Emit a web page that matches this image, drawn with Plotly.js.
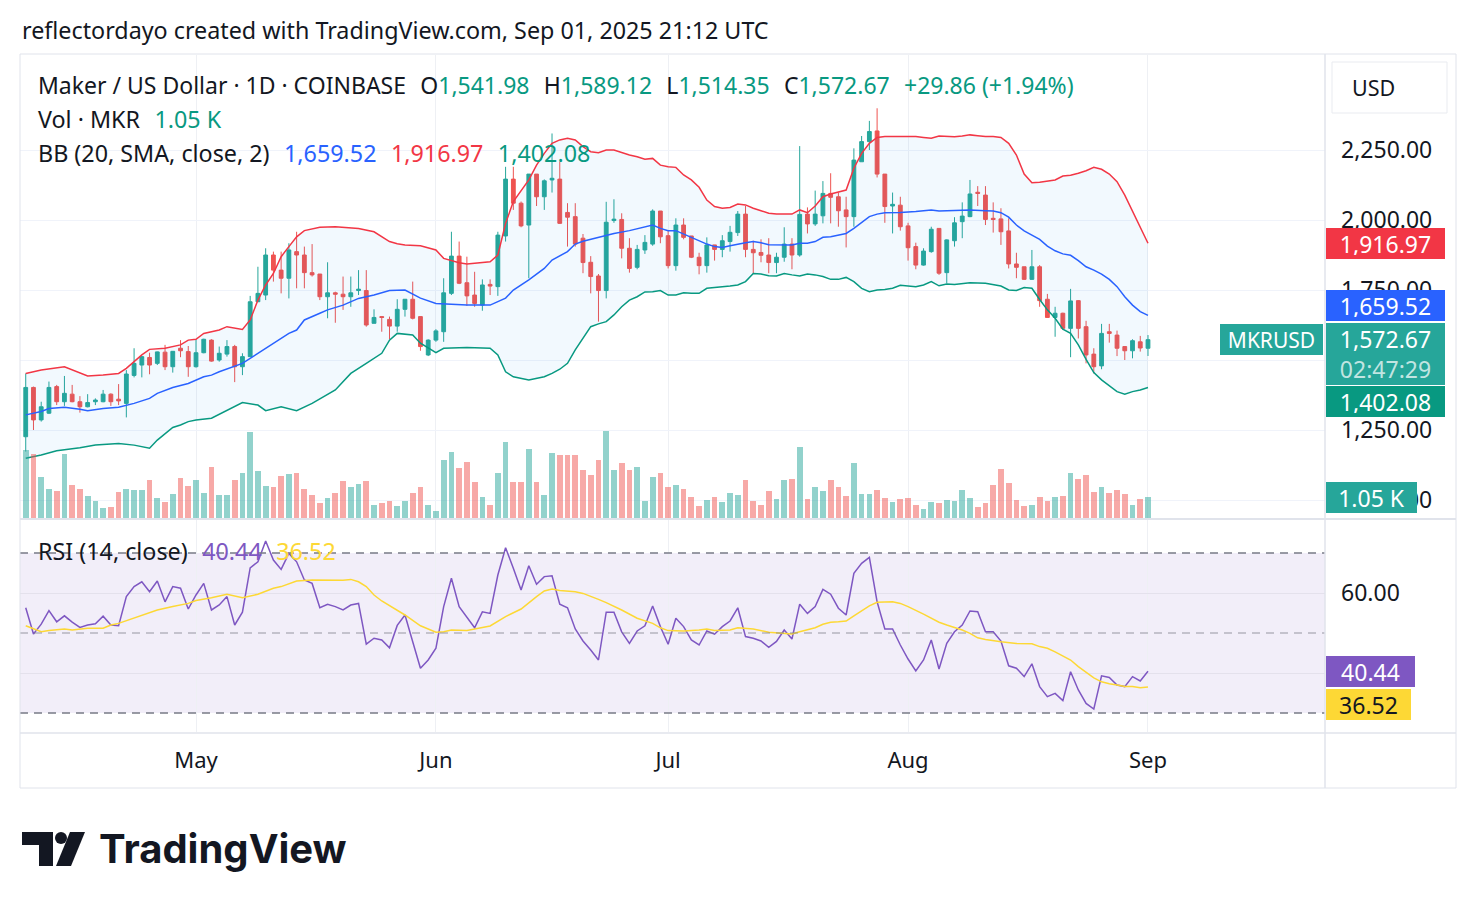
<!DOCTYPE html>
<html><head><meta charset="utf-8">
<script src="https://cdn.plot.ly/plotly-3.0.1.min.js"></script>
<style>html,body{margin:0;padding:0;background:#fff;}#chart{width:1476px;height:908px;}</style>
</head><body><div id="chart"></div>
<script>
// ---------- DATA ----------
const dates = [
'2025-04-09','2025-04-10','2025-04-11','2025-04-12','2025-04-13','2025-04-14','2025-04-15','2025-04-16','2025-04-17','2025-04-18',
'2025-04-19','2025-04-20','2025-04-21','2025-04-22','2025-04-23','2025-04-24','2025-04-25','2025-04-26','2025-04-27','2025-04-28',
'2025-04-29','2025-04-30','2025-05-01','2025-05-02','2025-05-03','2025-05-04','2025-05-05','2025-05-06','2025-05-07','2025-05-08',
'2025-05-09','2025-05-10','2025-05-11','2025-05-12','2025-05-13','2025-05-14','2025-05-15','2025-05-16','2025-05-17','2025-05-18',
'2025-05-19','2025-05-20','2025-05-21','2025-05-22','2025-05-23','2025-05-24','2025-05-25','2025-05-26','2025-05-27','2025-05-28',
'2025-05-29','2025-05-30','2025-05-31','2025-06-01','2025-06-02','2025-06-03','2025-06-04','2025-06-05','2025-06-06','2025-06-07',
'2025-06-08','2025-06-09','2025-06-10','2025-06-11','2025-06-12','2025-06-13','2025-06-14','2025-06-15','2025-06-16','2025-06-17',
'2025-06-18','2025-06-19','2025-06-20','2025-06-21','2025-06-22','2025-06-23','2025-06-24','2025-06-25','2025-06-26','2025-06-27',
'2025-06-28','2025-06-29','2025-06-30','2025-07-01','2025-07-02','2025-07-03','2025-07-04','2025-07-05','2025-07-06','2025-07-07',
'2025-07-08','2025-07-09','2025-07-10','2025-07-11','2025-07-12','2025-07-13','2025-07-14','2025-07-15','2025-07-16','2025-07-17',
'2025-07-18','2025-07-19','2025-07-20','2025-07-21','2025-07-22','2025-07-23','2025-07-24','2025-07-25','2025-07-26','2025-07-27',
'2025-07-28','2025-07-29','2025-07-30','2025-07-31','2025-08-01','2025-08-02','2025-08-03','2025-08-04','2025-08-05','2025-08-06',
'2025-08-07','2025-08-08','2025-08-09','2025-08-10','2025-08-11','2025-08-12','2025-08-13','2025-08-14','2025-08-15','2025-08-16',
'2025-08-17','2025-08-18','2025-08-19','2025-08-20','2025-08-21','2025-08-22','2025-08-23','2025-08-24','2025-08-25','2025-08-26',
'2025-08-27','2025-08-28','2025-08-29','2025-08-30','2025-08-31','2025-09-01'];

const open = [
1226,1402,1286,1310,1405,1351,1378,1351,1333,1351,
1351,1378,1360,1345,1445,1482,1509,1488,1528,1476,
1542,1530,1476,1526,1571,1500,1521,1548,1476,1512,
1708,1732,1875,1821,1792,1887,1875,1812,1807,1726,
1740,1735,1726,1748,1748,1631,1655,1645,1621,1681,
1717,1655,1518,1571,1601,1738,1871,1776,1732,1696,
1770,1762,1943,2146,2060,1982,2164,2083,2143,2146,
2027,2012,1935,1849,1800,1748,1998,2002,1899,1831,
1893,1914,2032,1944,1837,1982,1943,1867,1837,1911,
1895,1923,1955,2021,1895,1884,1875,1848,1867,1914,
1875,2021,1986,2015,2095,2083,2036,2012,2208,2280,
2318,2164,2050,2053,1979,1905,1839,1887,1970,1812,
1926,1994,2012,2099,2089,2006,2004,1961,1843,1833,
1788,1833,1717,1652,1667,1613,1712,1619,1521,1479,
1601,1589,1548,1533,1565,1541.98];

const high = [
1452,1405,1351,1423,1411,1443,1411,1371,1378,1363,
1393,1381,1414,1464,1542,1514,1526,1530,1554,1531,
1571,1550,1574,1576,1574,1548,1571,1554,1524,1729,
1833,1899,1887,1887,1917,1958,1905,1914,1807,1849,
1744,1798,1798,1821,1821,1681,1655,1655,1717,1717,
1780,1655,1574,1610,1792,1958,1923,1869,1815,1788,
1788,1958,2190,2190,2066,2164,2164,2145,2309,2208,
2060,2060,1950,1871,1807,2065,2074,2024,1935,1911,
1946,2038,2032,1964,2006,2006,1943,1883,1938,1911,
1946,1979,2032,2050,1926,1931,1935,1883,1974,1935,
2264,2045,2105,2139,2167,2098,2083,2256,2300,2354,
2399,2164,2098,2083,1990,1919,1899,1976,1970,1931,
2010,2063,2143,2121,2121,2063,2042,2006,1883,1833,
1893,1839,1736,1690,1669,1754,1714,1640,1542,1629,
1629,1605,1550,1574,1586,1589.12];

const low = [
1173,1250,1280,1307,1339,1336,1349,1312,1331,1339,
1349,1336,1339,1295,1438,1438,1449,1482,1464,1455,
1510,1440,1473,1524,1494,1494,1512,1421,1446,1512,
1708,1714,1780,1738,1720,1756,1756,1798,1714,1649,
1633,1679,1690,1732,1619,1631,1601,1574,1601,1655,
1645,1533,1514,1565,1565,1732,1771,1693,1690,1676,
1732,1729,1923,2036,1974,1792,2050,2036,2098,1986,
1905,1905,1810,1738,1637,1720,1990,1863,1812,1824,
1879,1908,1917,1827,1819,1931,1864,1806,1812,1855,
1867,1887,1943,1867,1810,1849,1810,1810,1851,1824,
1869,1952,1979,1988,1988,1976,1902,1976,2208,2250,
2152,1990,1952,1962,1855,1824,1837,1883,1804,1774,
1905,1935,2010,2050,1982,1955,1911,1827,1792,1786,
1786,1690,1652,1583,1607,1510,1577,1488,1452,1467,
1562,1514,1500,1506,1530,1514.35];

const close = [
1402,1286,1333,1402,1351,1381,1351,1333,1348,1357,
1378,1351,1354,1450,1488,1512,1482,1529,1476,1531,
1533,1476,1526,1574,1496,1524,1548,1476,1512,1708,
1738,1875,1821,1792,1893,1875,1812,1804,1726,1740,
1735,1726,1740,1753,1625,1652,1652,1621,1681,1717,
1649,1548,1571,1604,1740,1871,1774,1729,1702,1768,
1764,1946,2146,2060,1979,2164,2083,2140,2149,1988,
2010,1914,1848,1798,1748,1992,2003,1899,1827,1895,
1920,2032,1940,1837,1982,1938,1867,1837,1911,1895,
1926,1956,2021,1895,1883,1874,1848,1867,1914,1875,
2020,1986,2021,2095,2081,2033,2012,2214,2280,2316,
2164,2048,2056,1976,1901,1839,1889,1967,1810,1929,
1990,2014,2093,2095,2002,2002,1958,1843,1831,1788,
1833,1712,1652,1667,1613,1711,1613,1518,1476,1595,
1595,1542,1533,1569,1542.81,1572.67];

// volume in thousands (K)
const volumeK = [
3.47,3.25,2.06,1.49,1.35,3.25,1.66,1.47,1.10,0.85,
0.51,0.54,1.32,1.47,1.44,1.40,1.91,1.00,0.81,1.20,
2.01,1.61,1.91,1.27,2.57,1.15,1.18,1.95,2.28,4.35,
2.37,1.61,1.56,2.12,2.23,2.28,1.49,1.15,0.76,1.02,
1.27,1.90,1.56,1.73,1.86,0.64,0.76,0.88,0.62,0.85,
1.27,1.56,0.64,0.34,2.96,3.33,2.54,2.83,1.81,1.05,
0.64,2.28,3.84,1.81,1.81,3.52,1.81,1.18,3.28,3.21,
3.18,3.18,2.45,2.17,2.93,4.40,2.45,2.77,2.45,2.57,
0.85,2.06,2.27,1.56,1.69,1.49,1.05,0.59,0.90,1.05,
0.80,1.25,1.15,1.91,0.85,0.68,1.35,0.95,1.91,1.96,
3.59,0.95,1.56,1.35,1.91,1.56,1.10,2.77,1.20,1.20,
1.40,1.00,0.80,0.95,1.00,0.64,0.44,0.80,0.74,0.90,
0.85,1.40,1.00,0.54,0.74,1.66,2.47,1.76,0.90,0.59,
0.64,1.05,0.85,1.05,1.10,2.27,1.96,2.17,1.30,1.56,
1.25,1.40,1.20,0.64,0.95,1.05];

// Bollinger Bands (20, SMA, close, 2) read at candle indices
const bbUpperIdx = [0,2,5,8,10,12,13,15,16,18,20,21,22,23,25,26,28,29,30,31,32,33,34,35,36,38,40,43,45,46,47,48,49,51,53,54,56,57,60,61,62,63,65,66,67,68,69,70,71,72,73,74,75,76,77,78,79,80,81,82,83,84,85,86,87,88,89,90,91,92,93,94,95,96,97,98,99,100,101,102,103,104,105,106,107,108,109,110,111,113,115,116,117,118,119,120,121,122,123,124,125,126,127,128,129,130,131,132,133,134,135,136,137,138,139,140,141,142,143,144,145];
const bbUpperVal = [1452,1464,1476,1443,1446,1452,1470,1518,1538,1542,1554,1571,1574,1595,1607,1619,1609,1643,1714,1768,1809,1869,1905,1940,1962,1974,1976,1970,1958,1940,1923,1915,1911,1908,1893,1863,1847,1843,1851,1875,1988,2066,2143,2196,2238,2274,2286,2292,2286,2262,2244,2240,2250,2250,2240,2232,2226,2217,2220,2196,2190,2188,2161,2143,2117,2071,2048,2042,2045,2057,2054,2042,2033,2024,2021,2020,2021,2036,2026,2050,2083,2093,2101,2107,2185,2238,2274,2295,2298,2298,2298,2295,2292,2300,2298,2297,2300,2304,2301,2298,2298,2295,2274,2232,2164,2133,2135,2138,2143,2157,2160,2167,2176,2188,2181,2164,2137,2089,2030,1970,1916.97];

const bbBasisIdx = [0,2,3,5,7,8,10,12,14,16,17,19,21,23,24,25,28,30,32,34,35,36,38,39,41,43,45,47,49,51,53,57,60,62,63,65,67,68,70,71,72,73,74,76,78,80,81,82,83,84,85,86,87,88,89,90,91,92,93,94,95,96,97,99,100,101,102,103,104,105,106,107,108,109,110,111,113,115,117,118,120,122,124,125,126,127,128,129,130,131,132,133,134,135,136,137,138,139,140,141,142,143,144,145];
const bbBasisVal = [1304,1316,1327,1331,1324,1319,1327,1331,1345,1363,1381,1402,1416,1440,1446,1458,1488,1524,1560,1595,1607,1643,1667,1679,1696,1720,1732,1748,1750,1721,1702,1696,1696,1721,1750,1786,1827,1857,1887,1914,1924,1931,1938,1952,1962,1976,1982,1970,1962,1962,1950,1940,1926,1914,1905,1902,1908,1914,1919,1923,1919,1912,1911,1911,1917,1917,1923,1938,1940,1946,1952,1970,1990,2012,2021,2026,2027,2030,2036,2032,2034,2036,2033,2032,2026,2010,1982,1961,1946,1931,1907,1890,1879,1874,1855,1833,1821,1807,1788,1762,1726,1696,1673,1659.52];

const bbLowerIdx = [0,2,4,5,7,9,12,14,16,17,19,20,21,22,24,28,30,31,33,35,37,40,42,44,46,47,48,50,51,53,54,57,60,61,62,63,65,67,68,69,70,71,72,73,74,75,76,77,78,79,80,81,82,83,84,85,86,87,88,89,90,91,92,93,94,95,96,97,98,99,100,101,102,103,104,105,106,107,108,109,110,111,112,113,114,115,116,117,118,119,120,121,122,124,125,126,127,128,129,130,131,132,133,134,135,136,137,138,139,140,141,142,143,144,145];
const bbLowerVal = [1149,1161,1176,1179,1187,1196,1202,1196,1185,1214,1259,1268,1280,1286,1292,1348,1339,1319,1333,1319,1345,1393,1452,1488,1524,1571,1595,1589,1560,1526,1542,1545,1542,1518,1458,1440,1429,1440,1452,1467,1488,1536,1578,1619,1629,1637,1661,1690,1714,1726,1743,1744,1748,1732,1732,1740,1738,1738,1756,1760,1762,1764,1768,1780,1809,1807,1801,1800,1809,1804,1800,1807,1804,1798,1788,1788,1795,1780,1756,1744,1750,1752,1756,1767,1764,1762,1768,1780,1765,1771,1770,1774,1776,1774,1770,1764,1750,1748,1759,1756,1716,1679,1649,1610,1595,1554,1502,1455,1429,1407,1387,1378,1387,1393,1402.08];

// RSI (14, close) and its moving average
const rsi = [
56.3,49.75,52.2,55.6,52.8,54.3,52.7,51.4,52.0,52.3,
54.2,52.0,51.8,59.1,61.6,62.8,60.3,63.0,57.8,61.6,
61.2,56.0,59.5,62.4,55.75,57.0,59.1,52.0,55.2,66.3,
67.8,73.0,68.25,65.9,69.9,67.8,63.25,62.4,56.3,57.2,
56.6,55.75,57.0,57.4,47.2,48.7,48.25,46.3,51.9,54.5,
47.8,41.2,43.25,46.2,56.6,63.7,56.6,53.8,51.3,55.3,
54.9,64.5,71.3,66.2,60.75,66.8,62.2,64.1,64.3,57.2,
56.3,51.0,48.0,45.75,43.25,55.2,55.2,50.3,47.4,50.5,
51.8,56.75,51.6,47.2,53.7,51.6,48.25,47.0,50.5,49.7,
51.6,53.0,56.3,49.1,48.7,48.0,46.4,47.9,50.75,48.5,
57.2,54.9,56.6,60.9,59.7,56.2,54.5,64.9,67.4,68.9,
57.8,51.0,51.0,47.0,43.5,40.5,43.25,48.25,41.0,47.4,
50.3,52.0,55.5,55.3,50.3,50.3,48.0,41.8,41.2,39.1,
42.3,36.6,34.1,34.9,33.1,40.3,35.75,32.4,31.0,39.3,
38.9,37.0,36.6,39.1,38.0,40.44];

const rsiMaIdx = [0,2,3,5,6,8,10,11,12,14,15,17,19,21,22,24,26,28,30,32,33,35,37,39,41,42,43,44,45,46,47,48,49,51,53,54,55,57,60,62,64,66,67,68,69,71,72,74,75,77,79,81,82,83,85,87,88,89,91,92,94,96,97,99,100,102,103,104,105,106,107,109,110,112,113,114,116,117,118,119,121,122,123,124,126,128,130,131,132,133,134,135,136,137,138,139,140,141,142,143,144,145];
const rsiMaVal = [51.8,50.3,50.6,51.0,50.75,51.2,51.2,52.0,52.4,53.7,54.5,55.75,56.6,57.4,58.1,58.8,59.7,58.8,59.7,61.2,61.6,63.0,63.25,63.25,63.2,63.4,62.8,61.6,59.5,58.0,56.8,55.6,54.5,51.8,50.2,50.3,50.75,50.6,51.75,54.1,56.0,59.1,60.5,61.0,60.6,60.3,59.9,58.4,57.6,55.75,53.7,52.4,51.3,50.6,50.5,50.75,51.0,50.6,50.75,51.3,51.0,50.2,50.1,49.75,50.3,51.3,52.2,52.7,52.8,53.0,54.3,56.8,57.7,57.8,57.4,56.6,54.7,53.7,52.7,52.0,50.75,49.9,48.8,48.4,47.8,47.4,47.3,46.6,46.2,45.3,44.25,43.25,41.6,40.2,38.8,37.8,37.3,37.0,36.6,36.6,36.3,36.52];

const monthTicks = ['2025-05-01','2025-06-01','2025-07-01','2025-08-01','2025-09-01'];
const monthLabels = ['May','Jun','Jul','Aug','Sep'];
const priceTicks = [1000,1250,1500,1750,2000,2250];
const priceTickText = ['1,000.00','1,250.00','','1,750.00','2,000.00','2,250.00']; // 1,500.00 sits under the value labels
const rsiTicks = [40,60];
const rsiTickText = ['','60.00'];

// ---------- STYLE ----------
const FONT = '"Noto Sans", "Open Sans", Roboto, sans-serif';
const TXT = '#131722';
const UP = '#26a69a', DN = '#ef5350';
const NB = '\u00a0';
const GAP = NB + NB + '\u200a';
const FS = 23.3, FL = 23, FN = 23, FX = 22;
const fmt = v => v.toLocaleString('en-US',{minimumFractionDigits:2, maximumFractionDigits:2});
const DAY = 864e5;
const W = 1476, H = 908, ML = 20, MR = 151, MT = 55, MB = 176;
const PW = W - ML - MR, PH = H - MT - MB;
const px = x => (x - ML) / PW;
const py = y => (H - MB - y) / PH;
const X = i => dates[i];
const last = dates.length - 1;

const tSep = Date.UTC(2025, 8, 1);
const xRange = [tSep - 145.74 * DAY, tSep + 22.87 * DAY];

const traces = [
  {type:'bar', x:dates, y:volumeK, yaxis:'y3', width:0.74*DAY,
   marker:{color: volumeK.map((v,i)=> close[i] >= open[i] ? 'rgba(38,166,154,0.5)' : 'rgba(239,83,80,0.5)'), line:{width:0}},
   hoverinfo:'skip'},
  {type:'scatter', mode:'lines', x:bbLowerIdx.map(X), y:bbLowerVal, line:{color:'#089981', width:1.5}, hoverinfo:'skip'},
  {type:'scatter', mode:'lines', x:bbUpperIdx.map(X), y:bbUpperVal, line:{color:'#f23645', width:1.5},
   fill:'tonexty', fillcolor:'rgba(33,150,243,0.06)', hoverinfo:'skip'},
  {type:'scatter', mode:'lines', x:bbBasisIdx.map(X), y:bbBasisVal, line:{color:'#2962ff', width:1.5}, hoverinfo:'skip'},
  {type:'candlestick', x:dates, open:open, high:high, low:low, close:close, whiskerwidth:0,
   increasing:{line:{color:UP, width:1}, fillcolor:UP},
   decreasing:{line:{color:DN, width:1}, fillcolor:DN}, hoverinfo:'skip'},
  {type:'scatter', mode:'lines', x:dates, y:rsi, yaxis:'y2', line:{color:'#7e57c2', width:1.5}, hoverinfo:'skip'},
  {type:'scatter', mode:'lines', x:rsiMaIdx.map(X), y:rsiMaVal, yaxis:'y2', line:{color:'#fdd835', width:1.5}, hoverinfo:'skip'}
];

function box(text, yref, y, bg, fg, x0, w, yshift, h, size) {
  h = h || 31;
  return {xref:'paper', x:px(x0), xanchor:'left', yref:yref, y:y, yanchor:'middle', yshift:yshift||0,
    text:text, showarrow:false, bgcolor:bg, borderwidth:0, borderpad:4,
    width:w-8, height:h-8, align:'center', valign:'middle',
    font:{family:FONT, size:size||FN, color:fg}};
}
function label(text, x, y, size, color, extra) {
  return Object.assign({xref:'paper', yref:'paper', x:px(x), y:py(y), xanchor:'left', yanchor:'middle',
    text:text, showarrow:false, font:{family:FONT, size:size, color:color}}, extra||{});
}
const span = (c, t) => `<span style="color:${c}">${t}</span>`;
const G = '#089981';
const chg = close[last] - close[last-1];
const chgPct = chg / close[last-1] * 100;

const annotations = [
  label('reflectordayo created with TradingView.com, Sep 01, 2025 21:12 UTC', 20, 30, FS, TXT),
  label('Maker / US Dollar · 1D · COINBASE' + GAP + 'O' + span(G, fmt(open[last])) + GAP + 'H' + span(G, fmt(high[last])) +
        GAP + 'L' + span(G, fmt(low[last])) + GAP + 'C' + span(G, fmt(close[last])) + GAP +
        span(G, '+' + chg.toFixed(2) + ' (+' + chgPct.toFixed(2) + '%)'), 36, 85, FL, TXT),
  label('Vol · MKR' + GAP + span(G, volumeK[last].toFixed(2) + NB + 'K'), 36, 119, FS, TXT),
  label('BB (20, SMA, close, 2)' + GAP + span('#2962ff', fmt(bbBasisVal[bbBasisVal.length-1])) + GAP +
        span('#f23645', fmt(bbUpperVal[bbUpperVal.length-1])) + GAP + span(G, fmt(bbLowerVal[bbLowerVal.length-1])), 36, 153, FS, TXT),
  label('RSI (14, close)' + GAP + span('#7e57c2', rsi[last].toFixed(2)) + GAP + span('#fdd835', rsiMaVal[rsiMaVal.length-1].toFixed(2)), 36, 551, FS, TXT),
  label('USD', 1350, 88, 21.5, TXT),
  label('<b>TradingView</b>', 97, 848, 40, TXT, {font:{family:'Inter, Roboto, sans-serif', size:40, color:TXT}}),
  // price scale labels
  box(fmt(bbUpperVal[bbUpperVal.length-1]), 'y', bbUpperVal[bbUpperVal.length-1], '#f23645', '#ffffff', 1326, 119, 0),
  box(fmt(bbBasisVal[bbBasisVal.length-1]), 'y', bbBasisVal[bbBasisVal.length-1], '#2962ff', '#ffffff', 1326, 119, 10),
  box(fmt(close[last]) + '<br>' + span('rgba(255,255,255,0.72)', '02:47:29'), 'y', close[last], UP, '#ffffff', 1326, 119, -14, 62),
  box(fmt(bbLowerVal[bbLowerVal.length-1]), 'y', bbLowerVal[bbLowerVal.length-1], '#089981', '#ffffff', 1326, 119, -14),
  box('MKRUSD', 'y', close[last], UP, '#ffffff', 1220, 103, 0, 31, 21),
  box(volumeK[last].toFixed(2) + NB + 'K', 'y3', volumeK[last], UP, '#ffffff', 1326, 91, 0),
  box(rsi[last].toFixed(2), 'y2', rsi[last], '#7e57c2', '#ffffff', 1326, 89, 0),
  box(rsiMaVal[rsiMaVal.length-1].toFixed(2), 'y2', rsiMaVal[rsiMaVal.length-1], '#fdd835', TXT, 1326, 85, -18)
];

const FR = '#e0e3eb';
function pline(x0, y0, x1, y1, color, width) {
  return {type:'line', xref:'paper', yref:'paper', x0:px(x0), y0:py(y0), x1:px(x1), y1:py(y1),
    line:{color:color, width:width||1}, layer:'above'};
}
function ppath(pts) {
  return 'M' + pts.map(p => px(p[0]) + ',' + py(p[1])).join(' L') + ' Z';
}
const shapes = [
  {type:'rect', xref:'paper', yref:'y2', x0:0, x1:1, y0:30, y1:70, fillcolor:'rgba(126,87,194,0.1)', line:{width:0}, layer:'below'},
  {type:'line', xref:'paper', yref:'y2', x0:0, x1:1, y0:70, y1:70, line:{color:'#787b86', width:1.5, dash:'8px,6px'}},
  {type:'line', xref:'paper', yref:'y2', x0:0, x1:1, y0:50, y1:50, line:{color:'rgba(120,123,134,0.5)', width:1.5, dash:'8px,6px'}},
  {type:'line', xref:'paper', yref:'y2', x0:0, x1:1, y0:30, y1:30, line:{color:'#787b86', width:1.5, dash:'8px,6px'}},
  pline(20, 54, 1456, 54, FR, 1),
  pline(20, 54, 20, 788, FR, 1),
  pline(1456, 54, 1456, 788, FR, 1),
  pline(20, 788, 1456, 788, FR, 1),
  pline(1325, 54, 1325, 788, FR, 1.5),
  pline(20, 519, 1456, 519, FR, 2),
  pline(20, 733, 1456, 733, FR, 1.5),
  // USD button
  {type:'rect', xref:'paper', yref:'paper', x0:px(1332), x1:px(1447), y0:py(62), y1:py(113), line:{color:'#e9ebf0', width:1}, fillcolor:'rgba(255,255,255,0)', layer:'above'},
  // TradingView logo
  {type:'path', xref:'paper', yref:'paper', path: ppath([[22,832],[53,832],[53,866],[39,866],[39,845],[22,845]]), fillcolor:TXT, line:{width:0}, layer:'above'},
  {type:'circle', xref:'paper', yref:'paper', x0:px(55), x1:px(67), y0:py(832), y1:py(844), fillcolor:TXT, line:{width:0}, layer:'above'},
  {type:'path', xref:'paper', yref:'paper', path: ppath([[70,832],[85,832],[71,866],[56,866]]), fillcolor:TXT, line:{width:0}, layer:'above'}
];

const layout = {
  width:W, height:H, margin:{l:ML, r:MR, t:MT, b:MB, pad:0},
  paper_bgcolor:'#ffffff', plot_bgcolor:'#ffffff', showlegend:false, bargap:0,
  font:{family:FONT, size:FS, color:TXT},
  xaxis:{type:'date', range:xRange, tickvals:monthTicks, ticktext:monthLabels, showgrid:true, gridcolor:'#eef0f4', gridwidth:1,
    zeroline:false, showline:false, ticks:'', anchor:'y2', rangeslider:{visible:false}, fixedrange:true,
    tickfont:{family:FONT, size:FX, color:TXT}, ticklabelstandoff:13},
  yaxis:{domain:[(H-MB-518)/PH, 1], range:[935.7, 2589.3], side:'right', tickvals:priceTicks, ticktext:priceTickText,
    showgrid:true, gridcolor:'#f0f3fa', zeroline:false, showline:false, ticks:'', anchor:'x', fixedrange:true,
    tickfont:{family:FONT, size:FN, color:TXT}, ticklabelstandoff:15},
  yaxis3:{overlaying:'y', range:[0, 23.5], visible:false, side:'right', fixedrange:true, showgrid:false, zeroline:false},
  yaxis2:{domain:[0, (H-MB-520)/PH], range:[25.25, 78.25], side:'right', tickvals:rsiTicks, ticktext:rsiTickText,
    showgrid:true, gridcolor:'#e4e1ec', zeroline:false, showline:false, ticks:'', anchor:'x', fixedrange:true,
    tickfont:{family:FONT, size:FN, color:TXT}, ticklabelstandoff:15},
  annotations:annotations,
  shapes:shapes
};

Plotly.newPlot('chart', traces, layout, {staticPlot:true, displayModeBar:false});
</script>
</body></html>
